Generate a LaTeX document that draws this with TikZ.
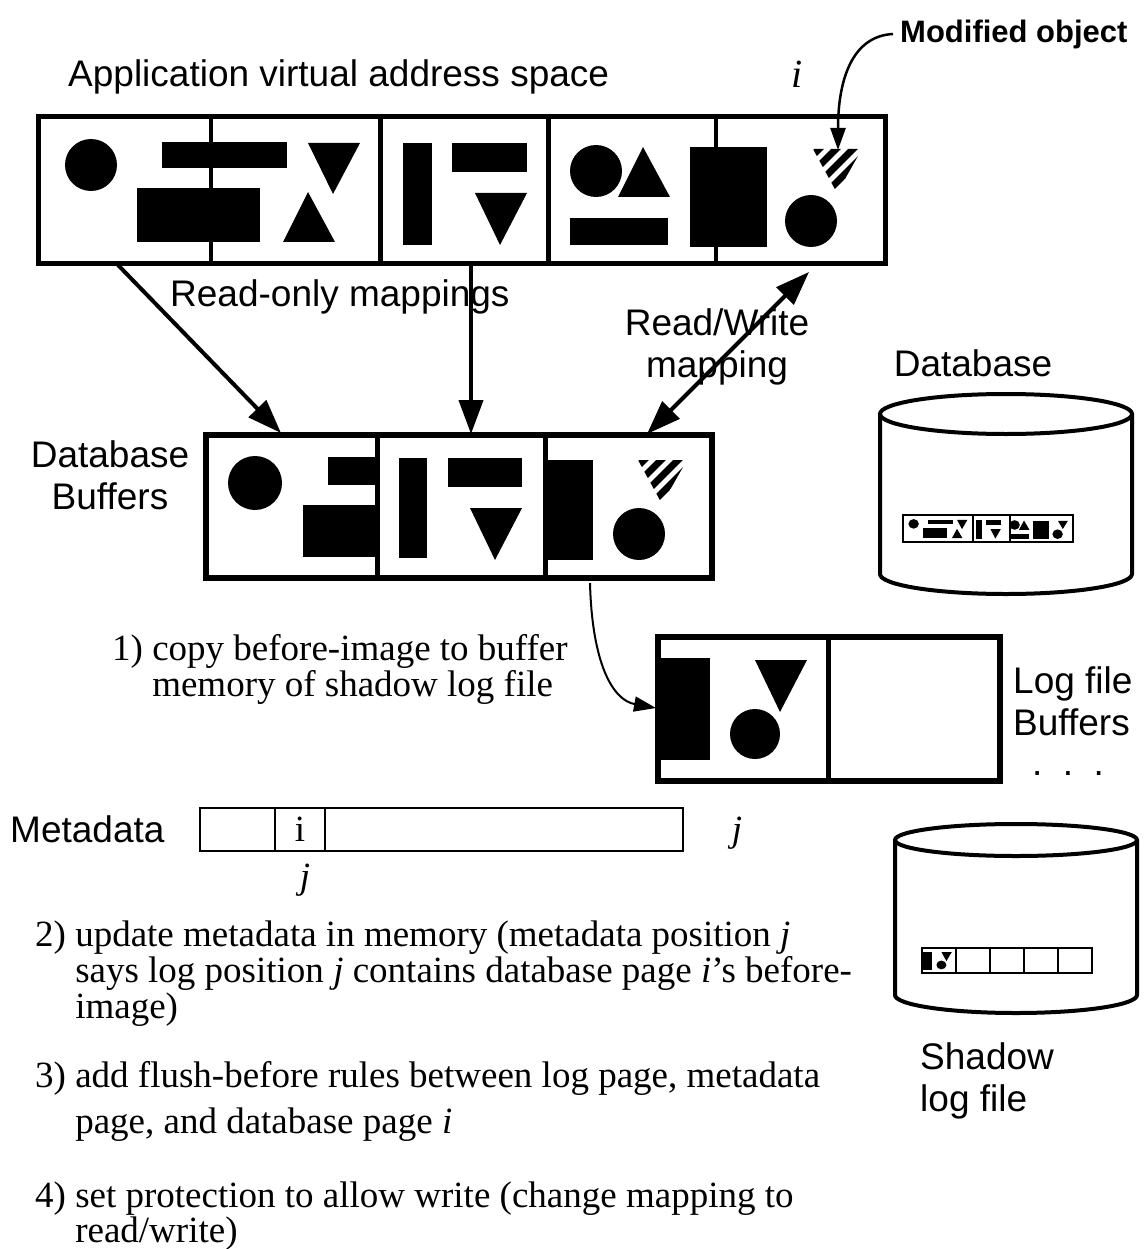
\documentclass[tikz,border=0pt]{standalone}
\usepackage{fontspec}
\setmainfont{Liberation Serif}
\setsansfont{Liberation Sans}
\usepackage{tikz}
\usetikzlibrary{positioning,arrows.meta,calc}

% objeto modificado (rayado)
\newcommand{\rayado}{%
  \begin{scope}
    \clip (0,0) -- (49,0) -- (24,44) -- cycle;
    \foreach \desp in {6,23,40,57}
      \draw[line width=7pt] (\desp+10,-10) -- (\desp-60,60);
  \end{scope}}
% objetos del espacio de direcciones
\newcommand{\objetosapp}[1]{%
  \fill (91,165) circle[radius=26];
  \fill (162,142) rectangle (287,168);
  \fill (137,188) rectangle (260,242);
  \fill (308,143) -- (360,143) -- (333,194) -- cycle;
  \fill (308,192) -- (335,242) -- (283,242) -- cycle;
  \fill (403,143) rectangle (432,245);
  \fill (452,143) rectangle (527,172);
  \fill (475,193) -- (527,193) -- (500,245) -- cycle;
  \fill (596,171) circle[radius=26];
  \fill (643,147) -- (670,197) -- (618,197) -- cycle;
  \fill (570,218) rectangle (668,245);
  \fill (690,147) rectangle (767,247);
  \fill (811,221) circle[radius=26];
  #1}
% objetos del buffer de log
\newcommand{\objetoslog}{%
  \fill (657,658) rectangle (710,760);
  \fill (755,660) -- (807,660) -- (780,712) -- cycle;
  \fill (755,734) circle[radius=25];}

\begin{document}
\begin{tikzpicture}[x=1pt, y=-1pt,
  etiqueta/.style={font=\sffamily\fontsize{37}{42}\selectfont, inner sep=0pt},
  texto/.style={font=\fontsize{37}{34}\selectfont, inner sep=0pt},
  marco/.style={draw, line width=5.5pt, inner sep=0pt},
  divisor/.style={line width=5pt},
  fino/.style={line width=1.5pt},
  cilindro/.style={line width=4pt},
  flecha/.style={-{Triangle[length=34pt,width=24pt]}, line width=4pt},
  doble/.style={{Triangle[length=34pt,width=24pt]}-{Triangle[length=34pt,width=24pt]}, line width=4pt},
  curva/.style={-{Triangle[length=22pt,width=15pt]}, line width=2pt}
]
\useasboundingbox (0,0) rectangle (1144,1249);

% Espacio de direcciones de la aplicacion
\node[etiqueta, anchor=base west] (aplic) at (68,87) {Application virtual address space};
\node[inner sep=0pt, anchor=base, font=\fontsize{40}{40}\selectfont\itshape] (itop) at (797,88) {i};
\node[inner sep=0pt, anchor=base west, font=\sffamily\bfseries\fontsize{31}{31}\selectfont] (modif) at (900,43) {Modified object};
\node[marco, minimum width=847pt, minimum height=147pt] (app) at (462,190) {};
\draw[divisor, line width=4pt] (211,117) -- (211,264) (716,117) -- (716,264);
\draw[divisor] (380,117) -- (380,264) (548,117) -- (548,264);
\objetosapp{\begin{scope}[shift={(813,149)}]\rayado\end{scope}}
\coordinate (m0) at (893,34);
\coordinate (m1) at (838,150);
\draw[curva, line width=2.5pt] (m0) .. controls (852,36) and (838,80) .. (m1);

% Buffers de la base de datos
\node[etiqueta, align=center, anchor=north] (buflbl) at (110,440) {Database\\Buffers};
\node[marco, minimum width=506pt, minimum height=143pt] (buf) at (459,506.5) {};
\draw[divisor] (377,435) -- (377,578) (545,435) -- (545,578);
\fill (255,483) circle[radius=27];
\fill (328,457) rectangle (377,485);
\fill (303,505) rectangle (377,557);
\fill (399,458) rectangle (427,558);
\fill (448,458) rectangle (522,487);
\fill (470,508) -- (522,508) -- (495,560) -- cycle;
\fill (545,460) rectangle (593,560);
\begin{scope}[shift={(638,460)}]\rayado\end{scope}
\fill (639,534) circle[radius=26];

% Mapeos
\node[etiqueta, anchor=base west] (rolbl) at (170,306) {Read-only mappings};
\node[etiqueta, align=center, anchor=north] (rwlbl) at (717,308) {Read/Write\\mapping};
\coordinate (a1) at (118,265);
\coordinate (b1) at (281,433);
\coordinate (a2) at (471,265);
\coordinate (b2) at (471,434);
\coordinate (a3) at (809,272);
\coordinate (b3) at (647,434);
\draw[flecha] (a1) -- (b1);
\draw[flecha] (a2) -- (b2);
\draw[doble] (a3) -- (b3);

% Base de datos
\node[etiqueta, anchor=base] (dblbl) at (973,376) {Database};
\draw[cilindro] (1006,414) ellipse[x radius=126, y radius=20];
\draw[cilindro] (880,414) -- (880,574) arc[start angle=180, end angle=0, x radius=126, y radius=20] -- (1132,414);
\draw[fino, fill=white] (903,515) rectangle (1073,542);
\draw[fino] (973,515) -- (973,542) (1010,515) -- (1010,542);
\begin{scope}[shift={(895.4,493.5)}, xscale=0.2, yscale=0.184]
  \objetosapp{\fill (813,149) -- (862,149) -- (837,193) -- cycle;}
\end{scope}

% Buffers del log
\node[texto, anchor=base west] (paso1) at (112,660) {\begin{tabular}[t]{@{}l@{\ }l@{}}1) & copy before-image to buffer\\ & memory of shadow log file\end{tabular}};
\node[marco, minimum width=342pt, minimum height=144pt] (logbuf) at (829,709) {};
\draw[divisor] (828,637) -- (828,781);
\objetoslog
\node[etiqueta, align=left, anchor=north west] (loglbl) at (1013,666) {Log file\\Buffers};
\node[etiqueta, anchor=base] (puntos) at (1068,775) {.~~.~~.};
\coordinate (c0) at (590,583);
\coordinate (c1) at (656,708);
\draw[curva] (c0) .. controls (592,662) and (612,700) .. (c1);

% Metadatos
\node[etiqueta, anchor=base west] (metalbl) at (10,842) {Metadata};
\node[draw, fino, minimum width=483pt, minimum height=43pt, inner sep=0pt] (meta) at (441.5,829.5) {};
\draw[fino] (275,808) -- (275,851) (325,808) -- (325,851);
\node[texto, anchor=base] (icelda) at (300,841) {i};
\node[texto, anchor=base] (jabajo) at (305,888) {\textit{j}};
\node[texto, anchor=base] (jder) at (737,841) {\textit{j}};

% Pasos
\node[texto, anchor=base west] (paso2) at (35,946) {\begin{tabular}[t]{@{}l@{\ }l@{}}2) & update metadata in memory (metadata position \textit{j}\\ & says log position \textit{j} contains database page \textit{i}'s before-\\ & image)\end{tabular}};
\node[texto, anchor=base west] (paso3) at (35,1087) {\begin{tabular}[t]{@{}l@{\ }l@{}}3) & add flush-before rules between log page, metadata\\[11pt] & page, and database page \textit{i}\end{tabular}};
\node[texto, anchor=base west] (paso4) at (35,1207) {\begin{tabular}[t]{@{}l@{\ }l@{}}4) & set protection to allow write (change mapping to\\ & read/write)\end{tabular}};

% Archivo de log sombra
\draw[cilindro] (1016,840) ellipse[x radius=121, y radius=16];
\draw[cilindro] (895,840) -- (895,995) arc[start angle=180, end angle=0, x radius=121, y radius=18] -- (1137,840);
\draw[fino] (922,948) rectangle (1092,973);
\foreach \xd in {956,990,1024,1058}
  \draw[fino] (\xd,948) -- (\xd,973);
\begin{scope}[shift={(790.4,836.5)}, xscale=0.2, yscale=0.175]
  \objetoslog
\end{scope}
\node[etiqueta, align=left, anchor=north west] (sombra) at (920,1042) {Shadow\\log file};
\end{tikzpicture}
\end{document}
